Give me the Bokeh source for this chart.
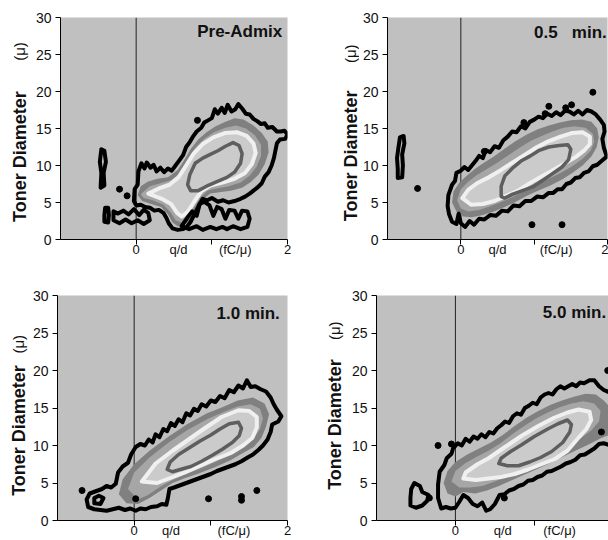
from bokeh.plotting import figure
from bokeh.layouts import column, row
from bokeh.models import Range1d, FixedTicker, Label, Span
from bokeh.core.properties import value
from bokeh.embed import file_html
from bokeh.resources import INLINE
import math

# ---------------- data (q/d in fC/u, diameter in u) ----------------
Y_TICKS = [0, 5, 10, 15, 20, 25, 30]
X_TICK_MARKS = [0, 1, 2]
X_LABELS = {0: "0", 2: "2"}
Y_TITLE = ["Toner Diameter", "(\u03bc)"]
X_TITLE = ["q/d", "(fC/\u03bc)"]

TITLES = ["Pre-Admix", "0.5\u00a0\u00a0\u00a0min.", "1.0 min.", "5.0 min."]

# --- Pre-Admix ---
pre_outer = [(-0.03, 5.2), (-0.02, 6.8), (0.02, 7.4), (0.03, 9.2), (0.07, 10.3), (0.11, 9.6), (0.14, 10.4),
             (0.19, 9.7), (0.23, 10.1), (0.27, 9.2), (0.32, 9.7), (0.37, 9.1), (0.42, 9.6), (0.47, 9.3),
             (0.52, 10.0), (0.57, 10.7), (0.62, 11.4), (0.66, 12.5), (0.71, 13.2), (0.75, 13.9), (0.8, 14.6),
             (0.86, 15.1), (0.9, 15.8), (0.95, 16.1), (1.0, 16.4), (1.04, 17.6), (1.08, 17.0), (1.13, 17.8),
             (1.17, 17.1), (1.21, 18.2), (1.26, 17.3), (1.31, 17.6), (1.35, 18.3), (1.4, 17.7), (1.45, 17.0),
             (1.5, 16.9), (1.55, 16.3), (1.6, 16.0), (1.65, 15.6), (1.7, 15.7), (1.74, 15.1), (1.8, 15.2),
             (1.86, 14.6), (1.91, 14.6), (1.96, 14.7), (2.0, 14.2), (1.97, 13.6), (1.9, 13.5), (1.86, 13.0),
             (1.84, 12.0), (1.82, 11.0), (1.79, 10.0), (1.75, 9.1), (1.7, 8.5), (1.66, 7.6), (1.6, 7.0),
             (1.55, 6.6), (1.5, 6.2), (1.44, 5.8), (1.38, 5.5), (1.3, 5.2), (1.22, 5.0), (1.15, 5.3),
             (1.08, 5.1), (1.0, 5.6), (0.94, 5.3), (0.88, 5.5), (0.84, 4.8), (0.8, 4.0), (0.76, 3.2),
             (0.72, 2.4), (0.67, 1.7), (0.62, 1.4), (0.55, 1.3), (0.48, 1.5), (0.43, 2.2), (0.4, 2.9),
             (0.36, 3.6), (0.3, 4.0), (0.24, 3.9), (0.18, 4.3), (0.12, 4.4), (0.06, 4.7), (0.0, 4.6)]
pre_c2 = [(0.02, 6.0), (0.06, 7.2), (0.15, 7.8), (0.28, 8.2), (0.42, 8.4), (0.55, 9.4), (0.64, 10.8), (0.72, 12.2),
          (0.82, 13.5), (0.93, 14.5), (1.05, 15.3), (1.18, 15.9), (1.3, 16.4), (1.42, 16.2), (1.55, 15.4),
          (1.66, 14.4), (1.74, 13.2), (1.75, 11.8), (1.7, 10.2), (1.62, 8.8), (1.52, 7.8), (1.4, 7.0),
          (1.25, 6.6), (1.1, 6.4), (0.98, 6.2), (0.88, 5.4), (0.8, 4.2), (0.72, 2.8), (0.64, 1.9), (0.55, 1.8),
          (0.48, 2.3), (0.42, 3.4), (0.33, 4.4), (0.2, 4.8), (0.08, 5.2)]
pre_c3 = [(0.06, 6.1), (0.18, 7.2), (0.32, 7.6), (0.46, 8.0), (0.58, 9.0), (0.68, 10.8), (0.78, 12.4), (0.9, 13.6),
          (1.03, 14.5), (1.18, 15.1), (1.32, 15.4), (1.45, 15.0), (1.57, 14.1), (1.65, 12.8), (1.65, 11.3),
          (1.59, 9.8), (1.5, 8.6), (1.38, 7.7), (1.22, 7.2), (1.06, 6.9), (0.94, 6.6), (0.84, 5.6), (0.76, 4.2),
          (0.68, 3.0), (0.6, 2.3), (0.52, 2.6), (0.46, 3.6), (0.36, 4.7), (0.22, 5.3), (0.1, 5.6)]
pre_c4 = [(0.16, 6.2), (0.3, 6.9), (0.44, 7.4), (0.56, 8.4), (0.66, 10.0), (0.76, 11.6), (0.88, 12.9), (1.02, 13.8),
          (1.18, 14.4), (1.33, 14.5), (1.46, 14.0), (1.55, 13.0), (1.58, 11.7), (1.53, 10.2), (1.44, 9.0),
          (1.3, 8.2), (1.14, 7.7), (0.98, 7.3), (0.86, 6.5), (0.76, 5.0), (0.68, 3.7), (0.6, 3.1), (0.54, 3.6),
          (0.46, 4.8), (0.34, 5.5)]
pre_c6 = [(0.68, 7.4), (0.71, 8.8), (0.78, 10.3), (0.88, 11.0), (0.98, 11.5), (1.08, 12.0), (1.18, 12.6),
          (1.28, 13.1), (1.36, 12.7), (1.4, 11.6), (1.38, 10.3), (1.3, 9.1), (1.2, 8.4), (1.06, 7.8),
          (0.93, 7.2), (0.82, 6.6), (0.72, 6.6)]
pre_blobs = [
    [(-0.47, 7.0), (-0.42, 7.3), (-0.43, 9.0), (-0.40, 10.5), (-0.42, 12.0), (-0.46, 12.2), (-0.48, 10.5), (-0.46, 9.0)],
    [(-0.42, 2.4), (-0.37, 2.3), (-0.36, 3.3), (-0.37, 4.3), (-0.41, 4.3), (-0.42, 3.3)],
    [(-0.3, 2.6), (-0.22, 2.2), (-0.14, 2.7), (-0.06, 2.2), (0.02, 2.6), (0.1, 2.1), (0.18, 2.6), (0.16, 3.6),
     (0.1, 4.0), (0.04, 3.3), (-0.03, 4.1), (-0.1, 3.4), (-0.17, 3.9), (-0.24, 3.5), (-0.3, 3.8)],
    [(0.6, 1.8), (0.7, 1.4), (0.8, 1.8), (0.88, 1.3), (0.98, 1.7), (1.06, 1.4), (1.14, 1.7), (1.2, 1.4),
     (1.28, 1.8), (1.38, 1.4), (1.47, 1.7), (1.5, 2.8), (1.47, 3.8), (1.4, 3.9), (1.35, 2.8), (1.3, 3.9),
     (1.23, 4.0), (1.18, 2.8), (1.13, 4.1), (1.07, 4.4), (1.02, 3.2), (0.97, 4.6), (0.9, 5.1), (0.84, 4.8),
     (0.8, 3.2), (0.74, 3.8), (0.68, 3.0)],
]
pre_dots = [(-0.22, 6.8), (-0.12, 5.9), (0.81, 16.1)]

# --- 0.5 min ---
m05_outer = [(-0.18, 4.5), (-0.17, 6.0), (-0.12, 7.4), (-0.08, 7.9), (-0.06, 9.0), (0.0, 9.3), (0.05, 9.8),
             (0.1, 9.4), (0.15, 10.0), (0.2, 10.6), (0.25, 11.3), (0.3, 11.0), (0.34, 12.1), (0.4, 11.8),
             (0.46, 12.6), (0.52, 12.4), (0.58, 13.4), (0.64, 13.9), (0.7, 14.6), (0.76, 14.5), (0.82, 15.3),
             (0.88, 15.0), (0.94, 15.9), (1.0, 16.2), (1.06, 16.6), (1.12, 16.4), (1.18, 17.0), (1.24, 16.7),
             (1.3, 17.2), (1.36, 16.8), (1.42, 17.4), (1.48, 17.3), (1.54, 16.9), (1.6, 17.4), (1.66, 16.9),
             (1.72, 17.5), (1.78, 17.3), (1.84, 16.9), (1.9, 16.2), (1.95, 15.5), (1.96, 14.6), (1.93, 13.6),
             (1.95, 12.4), (1.99, 11.2), (1.93, 10.7), (1.86, 10.1), (1.8, 9.9), (1.74, 9.2), (1.68, 9.0),
             (1.62, 8.4), (1.56, 8.3), (1.5, 7.7), (1.44, 7.5), (1.38, 6.8), (1.32, 6.8), (1.26, 6.3),
             (1.2, 6.3), (1.12, 5.7), (1.04, 5.8), (0.96, 5.2), (0.88, 5.2), (0.8, 4.5), (0.72, 4.6),
             (0.64, 3.8), (0.56, 3.9), (0.48, 3.2), (0.4, 3.3), (0.32, 2.7), (0.25, 2.8), (0.18, 2.0),
             (0.12, 2.5), (0.06, 1.7), (0.0, 2.2), (-0.03, 3.5), (-0.06, 2.1), (-0.12, 2.4), (-0.16, 3.4)]
m05_c2 = [(-0.12, 5.0), (-0.1, 6.5), (-0.02, 7.7), (0.08, 8.6), (0.2, 9.6), (0.32, 10.4), (0.45, 11.2), (0.6, 12.3),
          (0.75, 13.3), (0.9, 14.2), (1.05, 14.9), (1.2, 15.4), (1.35, 15.8), (1.5, 16.1), (1.65, 16.2),
          (1.78, 15.9), (1.86, 15.0), (1.88, 13.8), (1.85, 12.4), (1.78, 11.2), (1.66, 10.0), (1.52, 9.0),
          (1.38, 8.1), (1.22, 7.3), (1.05, 6.6), (0.9, 5.9), (0.75, 5.1), (0.6, 4.4), (0.45, 3.8), (0.3, 3.3),
          (0.15, 3.0), (0.03, 3.1), (-0.06, 3.8)]
m05_c3 = [(-0.05, 5.3), (0.0, 6.8), (0.1, 7.8), (0.22, 8.7), (0.35, 9.5), (0.5, 10.4), (0.65, 11.4), (0.8, 12.4),
          (0.95, 13.3), (1.1, 14.0), (1.25, 14.6), (1.4, 15.1), (1.55, 15.3), (1.7, 15.1), (1.8, 14.3),
          (1.82, 13.2), (1.77, 12.0), (1.66, 10.9), (1.52, 9.9), (1.36, 9.0), (1.2, 8.2), (1.04, 7.4),
          (0.88, 6.6), (0.72, 5.8), (0.56, 5.1), (0.4, 4.5), (0.25, 4.0), (0.1, 3.8), (0.0, 4.2)]
m05_c4 = [(0.02, 5.6), (0.1, 6.7), (0.22, 7.6), (0.38, 8.4), (0.55, 9.4), (0.72, 10.5), (0.88, 11.5), (1.04, 12.5),
          (1.2, 13.3), (1.36, 13.9), (1.52, 14.4), (1.66, 14.5), (1.76, 13.9), (1.76, 12.9), (1.68, 12.0),
          (1.56, 11.1), (1.42, 10.3), (1.26, 9.4), (1.1, 8.5), (0.94, 7.6), (0.78, 6.6), (0.62, 5.9),
          (0.46, 5.2), (0.3, 4.8), (0.14, 4.7)]
m05_c6 = [(0.55, 5.8), (0.55, 7.2), (0.6, 8.6), (0.7, 9.6), (0.82, 10.6), (0.95, 11.3), (1.06, 12.0), (1.2, 12.5),
          (1.34, 12.7), (1.46, 12.8), (1.5, 12.2), (1.47, 10.8), (1.38, 9.8), (1.25, 8.9), (1.12, 8.0),
          (0.98, 7.1), (0.84, 6.6), (0.7, 6.1), (0.6, 5.6)]
m05_blobs = [
    [(-0.86, 8.3), (-0.8, 8.4), (-0.79, 10.0), (-0.8, 11.5), (-0.77, 13.0), (-0.78, 14.0), (-0.83, 13.8),
     (-0.85, 12.5), (-0.87, 11.0), (-0.86, 9.5)],
]
m05_dots = [(-0.59, 6.9), (0.32, 11.9), (0.86, 15.8), (1.15, 17.0), (1.2, 18.0), (1.43, 17.8), (1.51, 18.2),
            (1.8, 19.9), (0.97, 2.0), (1.38, 2.0)]

# --- 1.0 min ---
m10_outer = [(-0.24, 4.9), (-0.21, 6.4), (-0.15, 7.2), (-0.08, 7.7), (-0.04, 8.8), (0.02, 9.8), (0.08, 10.2),
             (0.14, 10.0), (0.19, 10.8), (0.24, 10.4), (0.28, 11.5), (0.33, 11.1), (0.38, 12.2), (0.43, 11.9),
             (0.48, 13.0), (0.53, 12.6), (0.58, 13.5), (0.63, 13.1), (0.68, 14.3), (0.73, 14.0), (0.78, 14.9),
             (0.83, 14.6), (0.88, 15.5), (0.94, 15.2), (1.0, 16.0), (1.06, 15.8), (1.12, 16.6), (1.18, 16.3),
             (1.24, 17.4), (1.3, 17.1), (1.36, 18.0), (1.42, 17.6), (1.47, 18.7), (1.52, 17.8), (1.58, 17.9),
             (1.65, 17.5), (1.72, 17.2), (1.78, 16.4), (1.82, 15.5), (1.86, 14.8), (1.92, 13.9), (1.88, 13.2),
             (1.8, 12.8), (1.78, 11.8), (1.74, 10.8), (1.68, 10.0), (1.62, 9.4), (1.55, 8.8), (1.48, 8.4),
             (1.4, 7.9), (1.32, 7.5), (1.24, 7.2), (1.16, 6.9), (1.08, 6.6), (1.0, 6.2), (0.92, 5.9),
             (0.84, 5.6), (0.76, 5.3), (0.68, 5.0), (0.6, 4.7), (0.52, 4.4), (0.46, 4.2), (0.44, 3.0),
             (0.42, 2.1), (0.36, 2.2), (0.3, 1.9), (0.22, 1.8), (0.15, 1.5), (0.08, 1.6), (0.02, 1.3),
             (-0.05, 1.6), (-0.12, 1.4), (-0.2, 1.7), (-0.28, 1.5), (-0.36, 1.3), (-0.44, 1.4), (-0.52, 1.5),
             (-0.6, 1.8), (-0.62, 2.8), (-0.58, 3.6), (-0.5, 3.9), (-0.42, 4.2), (-0.36, 4.6), (-0.3, 4.4)]
m10_c2 = [(-0.2, 3.5), (-0.15, 5.5), (0.0, 7.5), (0.2, 9.3), (0.45, 11.2), (0.7, 12.9), (0.95, 14.3), (1.15, 15.1),
          (1.35, 16.0), (1.55, 16.4), (1.7, 15.6), (1.76, 14.2), (1.72, 12.5), (1.66, 11.0), (1.56, 9.8),
          (1.42, 9.0), (1.25, 8.0), (1.05, 7.1), (0.85, 6.3), (0.65, 5.6), (0.5, 5.0), (0.38, 4.2), (0.2, 3.0),
          (0.05, 2.2), (-0.1, 2.3)]
m10_c3 = [(-0.08, 4.2), (0.0, 6.4), (0.2, 8.4), (0.45, 10.4), (0.7, 12.1), (0.95, 13.5), (1.15, 14.4), (1.35, 15.2),
          (1.52, 15.5), (1.64, 14.9), (1.68, 13.6), (1.64, 12.2), (1.56, 10.9), (1.44, 9.8), (1.28, 8.8),
          (1.08, 7.9), (0.88, 7.0), (0.68, 6.2), (0.5, 5.4), (0.34, 4.5), (0.18, 3.4), (0.05, 2.8)]
m10_c4 = [(0.1, 5.2), (0.28, 7.6), (0.5, 9.3), (0.71, 10.8), (0.92, 12.3), (1.14, 13.8), (1.36, 14.7), (1.5, 14.6),
          (1.6, 13.8), (1.6, 12.4), (1.54, 11.0), (1.42, 10.0), (1.26, 9.0), (1.06, 8.2), (0.86, 7.3),
          (0.66, 6.4), (0.48, 5.7), (0.3, 5.0)]
m10_c6 = [(0.43, 6.8), (0.47, 7.8), (0.58, 8.8), (0.72, 9.7), (0.86, 10.6), (1.0, 11.4), (1.12, 12.2), (1.24, 12.9),
          (1.36, 13.1), (1.4, 12.3), (1.37, 11.3), (1.28, 10.4), (1.15, 9.5), (1.02, 8.7), (0.88, 7.9),
          (0.74, 7.2), (0.6, 6.8), (0.5, 6.5)]
m10_blobs = [
    [(-0.52, 2.3), (-0.44, 2.2), (-0.4, 3.0), (-0.46, 3.3), (-0.52, 3.0)],
]
m10_dots = [(-0.68, 4.0), (0.02, 2.9), (0.97, 2.9), (1.4, 2.7), (1.4, 3.2), (1.6, 4.0)]

# --- 5.0 min ---
m50_outer = [(-0.22, 4.8), (-0.2, 6.5), (-0.14, 7.4), (-0.11, 8.3), (-0.05, 8.9), (-0.03, 9.6), (0.03, 10.3),
             (0.08, 10.0), (0.13, 10.9), (0.18, 10.5), (0.23, 11.2), (0.28, 10.9), (0.33, 11.5), (0.38, 11.1),
             (0.43, 11.8), (0.48, 11.6), (0.53, 12.3), (0.58, 12.7), (0.63, 13.2), (0.68, 13.0), (0.73, 13.9),
             (0.78, 14.3), (0.83, 14.1), (0.88, 15.0), (0.93, 15.3), (0.98, 15.7), (1.03, 15.5), (1.08, 16.4),
             (1.13, 16.8), (1.18, 17.0), (1.23, 16.8), (1.28, 17.5), (1.33, 17.9), (1.38, 17.6), (1.43, 17.9),
             (1.48, 18.2), (1.53, 17.9), (1.58, 18.4), (1.63, 18.3), (1.7, 18.7), (1.76, 18.7), (1.82, 17.9),
             (1.88, 17.4), (1.97, 17.0), (1.97, 10.0), (1.88, 10.3), (1.82, 10.2), (1.76, 9.6), (1.7, 9.2),
             (1.64, 8.8), (1.58, 8.7), (1.52, 8.1), (1.46, 7.8), (1.4, 7.6), (1.34, 7.2), (1.28, 6.9),
             (1.22, 6.6), (1.16, 6.5), (1.1, 6.0), (1.04, 5.8), (0.98, 5.4), (0.92, 5.3), (0.86, 4.8),
             (0.8, 4.6), (0.74, 4.2), (0.68, 4.0), (0.62, 3.5), (0.56, 3.4), (0.5, 2.2), (0.44, 1.5),
             (0.39, 1.3), (0.34, 2.4), (0.28, 1.9), (0.22, 2.2), (0.16, 3.0), (0.1, 3.4), (0.05, 2.5),
             (0.0, 1.7), (-0.06, 1.6), (-0.12, 1.8), (-0.18, 1.6), (-0.22, 3.0)]
m50_c2 = [(-0.15, 5.0), (-0.1, 6.6), (0.0, 7.8), (0.15, 8.8), (0.3, 9.6), (0.45, 10.4), (0.6, 11.4), (0.75, 12.6),
          (0.9, 13.7), (1.05, 14.6), (1.2, 15.4), (1.35, 16.0), (1.5, 16.5), (1.65, 16.9), (1.78, 16.8),
          (1.88, 16.0), (1.97, 15.0), (1.97, 11.5), (1.85, 11.0), (1.72, 10.3), (1.58, 9.6), (1.44, 8.9),
          (1.3, 8.2), (1.15, 7.4), (1.0, 6.7), (0.85, 6.0), (0.7, 5.3), (0.55, 4.6), (0.4, 4.0), (0.25, 3.6),
          (0.1, 3.8), (0.0, 3.2), (-0.1, 3.6)]
m50_c3 = [(-0.05, 5.2), (0.0, 6.6), (0.12, 7.6), (0.27, 8.5), (0.42, 9.3), (0.57, 10.3), (0.72, 11.5), (0.87, 12.6),
          (1.02, 13.6), (1.17, 14.4), (1.32, 15.1), (1.47, 15.6), (1.62, 15.9), (1.76, 15.6), (1.84, 14.6),
          (1.82, 13.2), (1.72, 12.0), (1.58, 10.9), (1.44, 10.0), (1.3, 9.2), (1.14, 8.3), (0.98, 7.5),
          (0.82, 6.7), (0.66, 5.9), (0.5, 5.2), (0.34, 4.6), (0.18, 4.4), (0.05, 4.4)]
m50_c4 = [(0.1, 5.6), (0.13, 6.4), (0.28, 7.5), (0.42, 8.3), (0.6, 9.6), (0.84, 11.3), (1.05, 12.6), (1.25, 13.7),
          (1.42, 14.4), (1.56, 14.8), (1.7, 14.5), (1.72, 13.4), (1.66, 12.2), (1.54, 10.8), (1.42, 9.3),
          (1.26, 8.2), (1.09, 7.5), (0.92, 6.8), (0.75, 6.2), (0.58, 5.8), (0.42, 5.6), (0.26, 5.4)]
m50_c6 = [(0.55, 7.6), (0.58, 8.3), (0.7, 9.2), (0.84, 10.1), (1.0, 11.2), (1.17, 12.2), (1.3, 12.9), (1.42, 13.4),
          (1.47, 12.8), (1.45, 11.8), (1.36, 10.4), (1.22, 9.2), (1.08, 8.4), (0.94, 7.8), (0.8, 7.3), (0.66, 7.3)]
m50_blobs = [
    [(-0.57, 2.0), (-0.5, 1.7), (-0.42, 2.0), (-0.36, 2.6), (-0.34, 3.4), (-0.42, 3.8), (-0.45, 4.6),
     (-0.52, 5.0), (-0.56, 4.2), (-0.57, 3.0)],
]
m50_dots = [(-0.22, 10.0), (-0.05, 10.2), (1.93, 20.0), (0.62, 3.0), (1.85, 11.8), (-0.33, 3.0)]

# ---------------- styling ----------------
FONT = "Liberation Sans"
INK = "#111111"
BG = "#c0c0c0"
C2_COLOR = "#808080"
C3_COLOR = "#a6a6a6"
C4_FILL = "#cbcbcb"
C4_LINE = "#f0f0f0"
C6_COLOR = "#5e5e5e"


def xs(pts):
    return [p[0] for p in pts]


def ys(pts):
    return [p[1] for p in pts]


def label_strip(width, yr, borders, x_px, title_d, mu_d):
    """A narrow figure, sharing the panel's y range, that carries the rotated y-axis title."""
    bt, bb = borders
    s = figure(width=width, height=270, x_range=Range1d(0, width), y_range=yr,
               output_backend="svg", toolbar_location=None, x_axis_type=None, y_axis_type=None,
               min_border_left=0, min_border_right=0, min_border_top=bt, min_border_bottom=bb)
    s.outline_line_color = None
    s.grid.visible = False
    s.background_fill_color = "white"
    s.text(x=[x_px], y=[title_d], text=[Y_TITLE[0]], angle=math.pi / 2,
           text_align="center", text_baseline="middle", text_font=value(FONT), text_font_style="bold",
           text_font_size="18px", text_color=INK)
    s.text(x=[x_px], y=[mu_d], text=[Y_TITLE[1]], angle=math.pi / 2,
           text_align="center", text_baseline="middle", text_font=value(FONT),
           text_font_size="15px", text_color=INK)
    return s


def panel(title, outer, c2, c3, c4, c6, blobs, dots, x_end, width, borders, ttl, xtitle_pos):
    bl, br, bt, bb = borders
    yr = Range1d(0, 30)
    p = figure(width=width, height=270, x_range=Range1d(-1, x_end), y_range=yr,
               output_backend="svg", toolbar_location=None,
               min_border_left=bl, min_border_right=br, min_border_top=bt, min_border_bottom=bb)
    p.background_fill_color = BG
    p.border_fill_color = "white"
    p.outline_line_color = None
    p.grid.visible = False

    # x axis: labels 0 and 2 plus the axis title on the same row
    ticks = sorted(list(X_LABELS.keys()) + list(xtitle_pos))
    overrides = {k: v for k, v in X_LABELS.items()}
    overrides[xtitle_pos[0]] = X_TITLE[0]
    overrides[xtitle_pos[1]] = X_TITLE[1]
    p.xaxis.ticker = FixedTicker(ticks=ticks, minor_ticks=X_TICK_MARKS)
    p.xaxis.major_label_overrides = overrides
    p.xaxis.major_tick_out = 0
    p.xaxis.major_tick_in = 0
    p.xaxis.minor_tick_out = 5
    p.xaxis.minor_tick_in = 0
    p.xaxis.major_label_standoff = -3
    p.xaxis.major_label_text_font_size = "13px"

    p.yaxis.ticker = FixedTicker(ticks=Y_TICKS)
    p.yaxis.major_tick_out = 5
    p.yaxis.major_tick_in = 0
    p.yaxis.minor_tick_line_color = None
    p.yaxis.major_label_standoff = 4
    p.yaxis.major_label_text_font_size = "14px"
    for ax in (p.xaxis, p.yaxis):
        ax.axis_line_color = "black"
        ax.major_tick_line_color = "black"
        ax.major_label_text_font = FONT
        ax.major_label_text_color = INK
    p.xaxis.minor_tick_line_color = "black"

    p.add_layout(Span(location=0, dimension="height", line_color="#222222", line_width=1, level="underlay"))

    p.patch(xs(c2), ys(c2), fill_color=C2_COLOR, line_color=None)
    p.patch(xs(c3), ys(c3), fill_color=C3_COLOR, line_color=None)
    p.patch(xs(c4), ys(c4), fill_color=C4_FILL, line_color=C4_LINE, line_width=4, line_join="round")
    p.patch(xs(c6), ys(c6), fill_color=None, line_color=C6_COLOR, line_width=3.5, line_join="round")
    p.patch(xs(outer), ys(outer), fill_color=None, line_color="black", line_width=4, line_join="round")
    for b in blobs:
        p.patch(xs(b), ys(b), fill_color=None, line_color="black", line_width=4, line_join="round")
    if dots:
        p.scatter(xs(dots), ys(dots), size=6, color="black")

    p.add_layout(Label(x=ttl[0], y=ttl[1], text=title, text_align="right", text_baseline="middle",
                       text_font=FONT, text_font_style="bold", text_font_size="17px", text_color=INK))
    return p, yr


p1, y1 = panel(TITLES[0], pre_outer, pre_c2, pre_c3, pre_c4, pre_c6, pre_blobs, pre_dots, 2.0,
               274, (30, 17, 17, 30), (1.93, 28.1), (0.56, 1.31))
s1 = label_strip(30, y1, (17, 30), 19, 11.2, 25.4)
p2, y2 = panel(TITLES[1], m05_outer, m05_c2, m05_c3, m05_c4, m05_c6, m05_blobs, m05_dots, 2.0,
               249, (26, 1, 17, 31), (1.99, 28.0), (0.5, 1.3))
s2 = label_strip(55, y2, (17, 31), 46, 11.3, 25.1)
p3, y3 = panel(TITLES[2], m10_outer, m10_c2, m10_c3, m10_c4, m10_c6, m10_blobs, m10_dots, 2.0,
               275, (26, 17, 25, 20), (1.9, 27.6), (0.48, 1.3))
s3 = label_strip(29, y3, (25, 20), 18, 12.0, 23.5)
p4, y4 = panel(TITLES[3], m50_outer, m50_c2, m50_c3, m50_c4, m50_c6, m50_blobs, m50_dots, 1.94,
               260, (26, 0, 24, 17), (1.91, 27.7), (0.6, 1.32))
s4 = label_strip(44, y4, (24, 17), 30, 12.8, 25.3)

layout = column(row(s1, p1, s2, p2), row(s3, p3, s4, p4))
open("out.html", "w").write(file_html(layout, INLINE))
